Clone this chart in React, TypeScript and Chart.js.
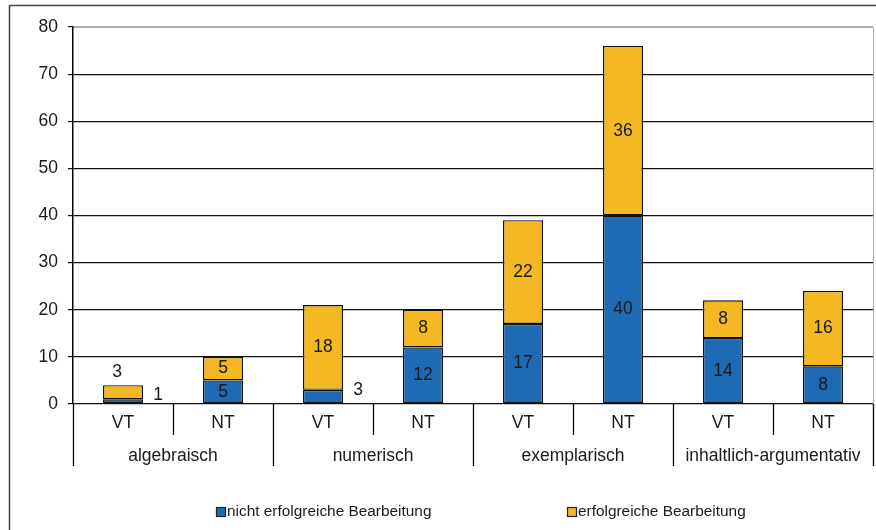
import React, { useEffect, useRef } from "react";
import { Chart, registerables } from "chart.js";

Chart.register(...registerables);

const groups = ["algebraisch", "numerisch", "exemplarisch", "inhaltlich-argumentativ"];
const phases = ["VT", "NT"];
const notSuccessful = [1, 5, 3, 12, 17, 40, 14, 8];
const successful = [3, 5, 18, 8, 22, 36, 8, 16];
const seriesNames = ["nicht erfolgreiche Bearbeitung", "erfolgreiche Bearbeitung"];
const seriesColors = ["#1F6AB4", "#F4B922"];
const yMax = 80;
const yStep = 10;

const categories: string[] = [];
groups.forEach((g) => phases.forEach((p) => categories.push(p)));

const FONT = "'Liberation Sans', Arial, sans-serif";

const framePlugin = {
  id: "frame",
  beforeDraw(chart: any) {
    const { ctx, chartArea } = chart;
    ctx.save();
    ctx.fillStyle = "#fff";
    ctx.fillRect(0, 0, chart.width, chart.height);
    ctx.strokeStyle = "#444";
    ctx.lineWidth = 1.5;
    ctx.beginPath();
    ctx.moveTo(9.5, chart.height + 2);
    ctx.lineTo(9.5, 5.5);
    ctx.lineTo(chart.width + 2, 5.5);
    ctx.stroke();
    ctx.strokeStyle = "#b0b0b0";
    ctx.lineWidth = 1;
    ctx.beginPath();
    ctx.moveTo(chartArea.left, chartArea.top + 0.5);
    ctx.lineTo(chartArea.right + 0.5, chartArea.top + 0.5);
    ctx.lineTo(chartArea.right + 0.5, chartArea.bottom);
    ctx.stroke();
    ctx.restore();
  },
};

const axisPlugin = {
  id: "groupAxis",
  afterDraw(chart: any) {
    const { ctx, chartArea } = chart;
    const xs = chart.scales.x;
    const n = categories.length;
    const step = xs.getPixelForValue(1) - xs.getPixelForValue(0);
    const bottom = chartArea.bottom;
    const inner = bottom + 31;
    const outer = bottom + 62;
    ctx.save();
    ctx.strokeStyle = "#000";
    ctx.lineWidth = 1.3;
    ctx.beginPath();
    for (let i = 0; i <= n; i++) {
      const xb = Math.round(xs.getPixelForValue(i) - step / 2) + 0.5;
      const isGroup = i % phases.length === 0;
      ctx.moveTo(xb, bottom);
      ctx.lineTo(xb, isGroup ? outer : inner);
    }
    ctx.stroke();
    ctx.fillStyle = "#1a1a1a";
    ctx.textAlign = "center";
    ctx.textBaseline = "middle";
    ctx.font = `17.5px ${FONT}`;
    categories.forEach((c, i) => {
      ctx.fillText(c, xs.getPixelForValue(i), bottom + 19);
    });
    groups.forEach((g, gi) => {
      const first = xs.getPixelForValue(gi * phases.length);
      const last = xs.getPixelForValue(gi * phases.length + phases.length - 1);
      ctx.fillText(g, (first + last) / 2, bottom + 52);
    });
    const legendX = [216, 567];
    const ly = 512;
    ctx.font = `15.4px ${FONT}`;
    ctx.textAlign = "left";
    seriesNames.forEach((name, i) => {
      ctx.fillStyle = seriesColors[i];
      ctx.fillRect(legendX[i], ly - 5, 10, 10);
      ctx.strokeStyle = "#222";
      ctx.lineWidth = 1.2;
      ctx.strokeRect(legendX[i] + 0.5, ly - 4.5, 9, 9);
      ctx.fillStyle = "#1a1a1a";
      ctx.fillText(name, legendX[i] + 11, ly);
    });
    ctx.restore();
  },
};

const labelPlugin = {
  id: "segLabels",
  afterDatasetsDraw(chart: any) {
    const { ctx } = chart;
    ctx.save();
    ctx.font = `17.5px ${FONT}`;
    ctx.fillStyle = "#1a1a1a";
    ctx.textAlign = "center";
    ctx.textBaseline = "middle";
    chart.data.datasets.forEach((ds: any, di: number) => {
      const meta = chart.getDatasetMeta(di);
      meta.data.forEach((bar: any, i: number) => {
        const v = ds.data[i];
        const h = bar.base - bar.y;
        const txt = String(v);
        if (h >= 18) {
          ctx.fillText(txt, bar.x, (bar.y + bar.base) / 2);
        } else if (di === chart.data.datasets.length - 1) {
          ctx.fillText(txt, bar.x - 6, bar.y - 13);
        } else {
          ctx.fillText(txt, bar.x + bar.width / 2 + 15, (bar.y + bar.base) / 2 - 6);
        }
      });
    });
    ctx.restore();
  },
};

export default function App() {
  const ref = useRef<HTMLCanvasElement>(null);
  useEffect(() => {
    if (!ref.current) return;
    const chart = new Chart(ref.current, {
      type: "bar",
      data: {
        labels: categories,
        datasets: [
          {
            label: seriesNames[0],
            data: notSuccessful,
            backgroundColor: seriesColors[0],
            borderColor: "#111",
            borderWidth: 1.4,
            borderSkipped: false,
            barPercentage: 0.4,
            categoryPercentage: 1,
          },
          {
            label: seriesNames[1],
            data: successful,
            backgroundColor: seriesColors[1],
            borderColor: "#111",
            borderWidth: 1.4,
            borderSkipped: false,
            barPercentage: 0.4,
            categoryPercentage: 1,
          },
        ],
      },
      options: {
        responsive: false,
        animation: false,
        devicePixelRatio: 1,
        layout: { padding: { top: 27, right: 3, left: 0, bottom: 0 } },
        plugins: {
          legend: { display: false },
          tooltip: { enabled: false },
        },
        scales: {
          x: {
            stacked: true,
            grid: { display: false },
            border: { display: false },
            ticks: { display: false },
            afterFit: (s: any) => {
              s.height = 126;
            },
          },
          y: {
            stacked: true,
            min: 0,
            max: yMax,
            ticks: {
              stepSize: yStep,
              color: "#1a1a1a",
              font: { size: 17.5, family: FONT },
              padding: 10,
            },
            grid: {
              color: (c: any) => (c.tick && c.tick.value === yMax ? "#b0b0b0" : "#111"),
              tickColor: "#111",
              tickLength: 5,
              lineWidth: 1.2,
            },
            border: { display: true, color: "#000", width: 1.5 },
            afterFit: (s: any) => {
              s.width = 73;
            },
          },
        },
      },
      plugins: [framePlugin, axisPlugin, labelPlugin],
    });
    return () => chart.destroy();
  }, []);
  return (
    <div style={{ position: "fixed", left: 0, top: 0, width: 876, height: 530 }}>
      <canvas ref={ref} width={876} height={530} />
    </div>
  );
}
